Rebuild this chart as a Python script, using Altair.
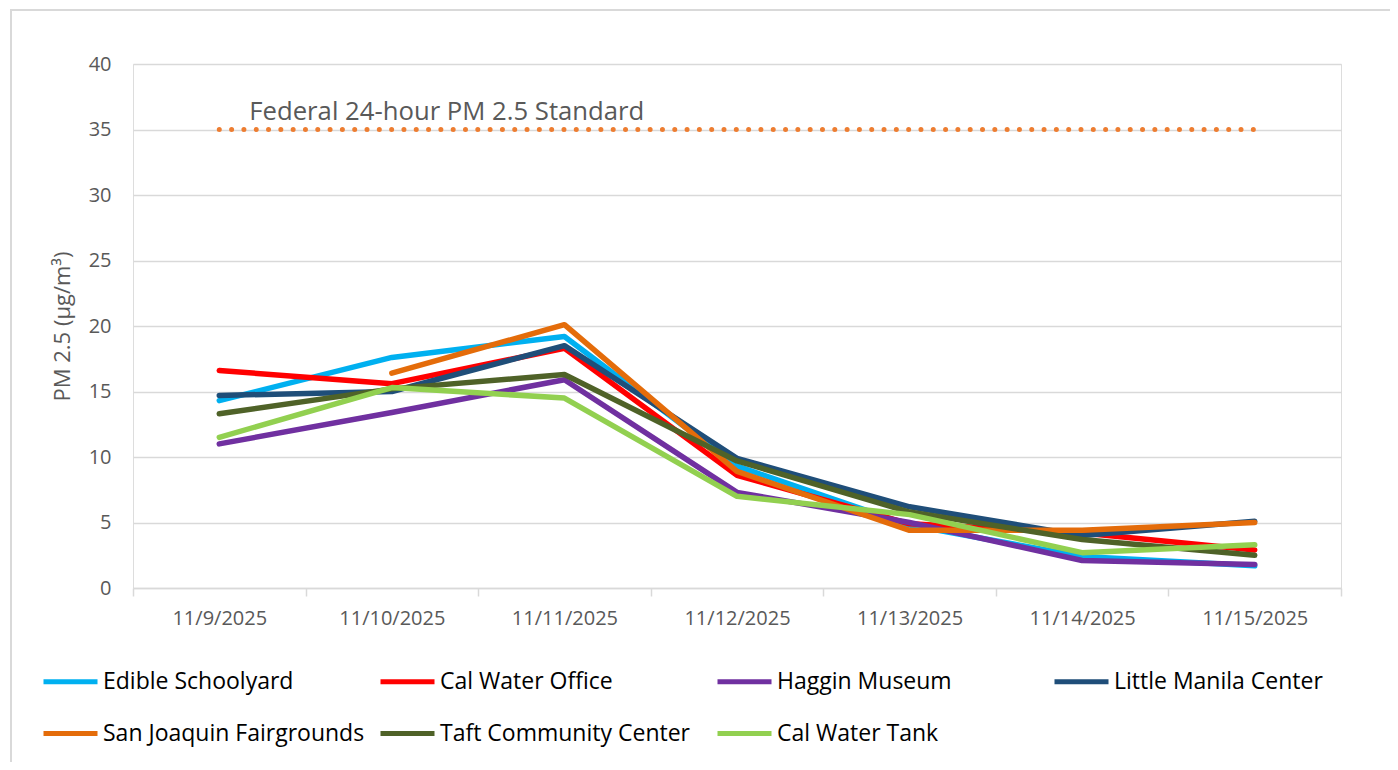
import altair as alt
import pandas as pd

dates = ["11/9/2025", "11/10/2025", "11/11/2025", "11/12/2025",
         "11/13/2025", "11/14/2025", "11/15/2025"]

sites = ["Edible Schoolyard", "Cal Water Office", "Haggin Museum",
         "Little Manila Center", "San Joaquin Fairgrounds",
         "Taft Community Center", "Cal Water Tank"]

site_colors = ["#00B0F0", "#FF0000", "#7030A0", "#1F4E79",
               "#E46C0A", "#4F6228", "#92D050"]

edible_schoolyard = [14.3, 17.6, 19.2, 9.3, 4.8, 2.4, 1.7]
cal_water_office = [16.6, 15.6, 18.3, 8.6, 4.9, 4.2, 2.9]
haggin_museum = [11.0, 13.4, 15.9, 7.3, 5.0, 2.1, 1.8]
little_manila_center = [14.7, 15.0, 18.5, 9.9, 6.2, 4.0, 5.1]
san_joaquin_fairgrounds = [None, 16.4, 20.1, 8.9, 4.4, 4.4, 5.0]
taft_community_center = [13.3, 15.2, 16.3, 9.7, 5.8, 3.7, 2.5]
cal_water_tank = [11.5, 15.3, 14.5, 7.0, 5.6, 2.7, 3.3]

standard_value = 35
standard_label = "Federal 24-hour PM 2.5 Standard"
y_ticks = [0, 5, 10, 15, 20, 25, 30, 35, 40]

series = [edible_schoolyard, cal_water_office, haggin_museum,
          little_manila_center, san_joaquin_fairgrounds,
          taft_community_center, cal_water_tank]

rows = []
for site, vals in zip(sites, series):
    for d, v in zip(dates, vals):
        if v is not None:
            rows.append({"date": d, "site": site, "value": v})
df = pd.DataFrame(rows)

std_df = pd.DataFrame({"date": [dates[0], dates[-1]],
                       "value": [standard_value, standard_value]})
std_label_df = pd.DataFrame({"date": [dates[0]], "value": [standard_value],
                             "label": [standard_label]})

GRAY = "#595959"
FONT = "Open Sans"

x_enc = alt.X("date:N", sort=dates, bandPosition=0.5,
              scale=alt.Scale(type="band", domain=dates, paddingInner=0, paddingOuter=0),
              axis=alt.Axis(title=None, tickBand="extent", labelAngle=0,
                            domainColor="#D9D9D9", domainWidth=1.5,
                            tickColor="#D9D9D9", tickWidth=1.5, tickSize=8,
                            grid=False, labelFont=FONT, labelFontSize=20,
                            labelColor=GRAY, labelPadding=12))
y_enc = alt.Y("value:Q",
              scale=alt.Scale(domain=[0, 40], nice=False, zero=True),
              axis=alt.Axis(values=y_ticks, title="PM 2.5 (µg/m³)",
                            domain=False, ticks=False, gridColor="#D9D9D9",
                            gridWidth=1.3, labelFont=FONT, labelFontSize=20,
                            labelColor=GRAY, labelPadding=22,
                            titleFont=FONT, titleFontSize=22, titleColor=GRAY,
                            titleFontWeight="normal", titlePadding=14))

frame = alt.Chart(pd.DataFrame({"a": [0]})).mark_rect(
    fillOpacity=0, stroke="#D9D9D9", strokeWidth=2
).encode(x=alt.value(-122), x2=alt.value(1400), y=alt.value(-54), y2=alt.value(900))

std_line = alt.Chart(std_df).mark_line(
    color="#ED7D31", strokeWidth=5, strokeCap="round", strokeDash=[0.01, 12.3]
).encode(x=x_enc, y=y_enc)

std_text = alt.Chart(std_label_df).mark_text(
    align="left", baseline="middle", dx=30, dy=-18, fontSize=25.7,
    font=FONT, color=GRAY
).encode(x=alt.X("date:N", sort=dates, bandPosition=0.5), y="value:Q", text="label:N")

lines = alt.Chart(df).mark_line(
    strokeWidth=5.5, strokeCap="round", strokeJoin="round"
).encode(
    x=x_enc, y=y_enc,
    color=alt.Color("site:N", sort=sites,
                    scale=alt.Scale(domain=sites, range=site_colors),
                    legend=alt.Legend(title=None, orient="none", legendX=-92, legendY=588,
                                      columns=4, direction="horizontal",
                                      symbolType="stroke", symbolSize=2916,
                                      symbolStrokeWidth=5, labelFont=FONT,
                                      labelFontSize=23, labelColor="black",
                                      labelOffset=3, gridAlign="all",
                                      columnPadding=5, rowPadding=10,
                                      labelLimit=500, padding=0)),
    detail="site:N",
)

chart = alt.layer(frame, std_line, std_text, lines).properties(
    width=1208, height=524,
    autosize=alt.AutoSizeParams(type="none"),
    padding={"left": 125, "top": 56, "right": 49, "bottom": 174},
).configure_view(stroke=None).configure(background="white")

chart.save("out.html", embed_options={"renderer": "svg", "actions": False})
